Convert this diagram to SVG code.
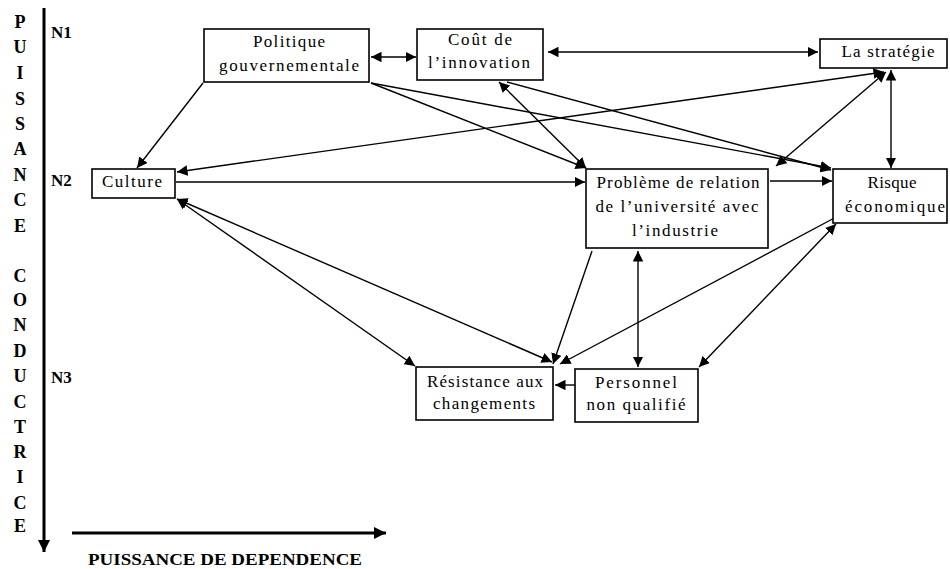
<svg xmlns="http://www.w3.org/2000/svg" width="950" height="569" viewBox="0 0 950 569">
<style>
.box{fill:#fff;stroke:#000;stroke-width:1.6}
.t{font-family:"Liberation Serif","Times New Roman",serif;font-size:17px;fill:#000;text-anchor:middle}
.ax{font-family:"Liberation Serif","Times New Roman",serif;font-size:18px;font-weight:bold;fill:#000;text-anchor:middle}
.lv{font-family:"Liberation Serif","Times New Roman",serif;font-size:17px;font-weight:bold;fill:#000}
.e{stroke:#000;stroke-width:1.4;fill:none}
.a{marker-end:url(#ah)}
.d{marker-start:url(#ah);marker-end:url(#ah)}
</style>
<defs>
<marker id="ah" viewBox="0 0 10 10" refX="10" refY="5" markerWidth="7.5" markerHeight="7.5" orient="auto-start-reverse" markerUnits="strokeWidth"><path d="M0,0 L10,5 L0,10 z" fill="#000"/></marker>
<marker id="axh" viewBox="0 0 10 10" refX="10" refY="5" markerWidth="4" markerHeight="4" orient="auto" markerUnits="strokeWidth"><path d="M0,0 L10,5 L0,10 z" fill="#000"/></marker>
</defs>
<rect width="950" height="569" fill="#fff"/>
<g id="axes">
<line x1="44" y1="8" x2="44" y2="552" stroke="#000" stroke-width="3" marker-end="url(#axh)"/>
<line x1="72" y1="533" x2="386" y2="533" stroke="#000" stroke-width="3" marker-end="url(#axh)"/>
<text class="ax" style="font-size:17px" x="225" y="565" textLength="274" lengthAdjust="spacingAndGlyphs">PUISSANCE DE DEPENDENCE</text>
<g class="ax">
<text x="20" y="28">P</text><text x="20" y="53">U</text><text x="20" y="79">I</text><text x="20" y="105">S</text><text x="20" y="130">S</text><text x="20" y="155">A</text><text x="20" y="181">N</text><text x="20" y="206">C</text><text x="20" y="232">E</text>
<text x="20" y="282">C</text><text x="20" y="306">O</text><text x="20" y="331">N</text><text x="20" y="357">D</text><text x="20" y="382">U</text><text x="20" y="408">C</text><text x="20" y="433">T</text><text x="20" y="458">R</text><text x="20" y="483">I</text><text x="20" y="509">C</text><text x="20" y="532">E</text>
</g>
<text class="lv" x="51" y="38">N1</text>
<text class="lv" x="51" y="186">N2</text>
<text class="lv" x="51" y="383">N3</text>
</g>
<g id="connectors">
<line class="e d" x1="371" y1="57" x2="416" y2="57"/>
<line class="e d" x1="548" y1="52" x2="818" y2="52"/>
<line class="e a" x1="203" y1="83" x2="137" y2="168"/>
<line class="e d" x1="884" y1="72" x2="177" y2="172"/>
<line class="e d" x1="891" y1="70" x2="891" y2="168"/>
<line class="e a" x1="371" y1="83" x2="586" y2="168"/>
<line class="e a" x1="371" y1="83" x2="831" y2="168"/>
<line class="e a" x1="507" y1="82" x2="831" y2="170"/>
<line class="e d" x1="499" y1="82" x2="586" y2="168"/>
<line class="e a" x1="176" y1="182" x2="585" y2="182"/>
<line class="e a" x1="770" y1="181" x2="832" y2="181"/>
<line class="e d" x1="886" y1="72" x2="776" y2="166"/>
<line class="e d" x1="177" y1="199" x2="415" y2="366"/>
<line class="e d" x1="177" y1="199" x2="552" y2="362"/>
<line class="e a" x1="592" y1="251" x2="553" y2="364"/>
<line class="e a" x1="840" y1="215" x2="560" y2="364"/>
<line class="e d" x1="638" y1="251" x2="638" y2="367"/>
<line class="e d" x1="836" y1="224" x2="699" y2="367"/>
<line class="e a" x1="575" y1="385" x2="555" y2="385"/>
</g>
<g id="politique"><rect class="box" x="204" y="29" width="165" height="53"/><text class="t" x="289" y="47" textLength="72">Politique</text><text class="t" x="289" y="71" textLength="140">gouvernementale</text></g>
<g id="cout"><rect class="box" x="417" y="29" width="126" height="51"/><text class="t" x="480" y="45" textLength="64">Coût de</text><text class="t" x="479" y="68" textLength="102">l’innovation</text></g>
<g id="strategie"><rect class="box" x="820" y="39" width="127" height="29"/><text class="t" x="888" y="57" textLength="93">La stratégie</text></g>
<g id="culture"><rect class="box" x="92" y="169" width="83" height="29"/><text class="t" x="132" y="187" textLength="60">Culture</text></g>
<g id="probleme"><rect class="box" x="586" y="169" width="182" height="79"/><text class="t" x="678" y="188" textLength="163">Problème de relation</text><text class="t" x="677" y="212" textLength="163">de l’université avec</text><text class="t" x="675" y="236" textLength="86">l’industrie</text></g>
<g id="risque"><rect class="box" x="833" y="169" width="114" height="54"/><text class="t" x="892" y="188" textLength="49">Risque</text><text class="t" x="895" y="212" textLength="100">économique</text></g>
<g id="resistance"><rect class="box" x="416" y="367" width="137" height="53"/><text class="t" x="485" y="387" textLength="116">Résistance aux</text><text class="t" x="484" y="409" textLength="102">changements</text></g>
<g id="personnel"><rect class="box" x="575" y="369" width="123" height="53"/><text class="t" x="636" y="388" textLength="82">Personnel</text><text class="t" x="636" y="410" textLength="99">non qualifié</text></g>
</svg>
